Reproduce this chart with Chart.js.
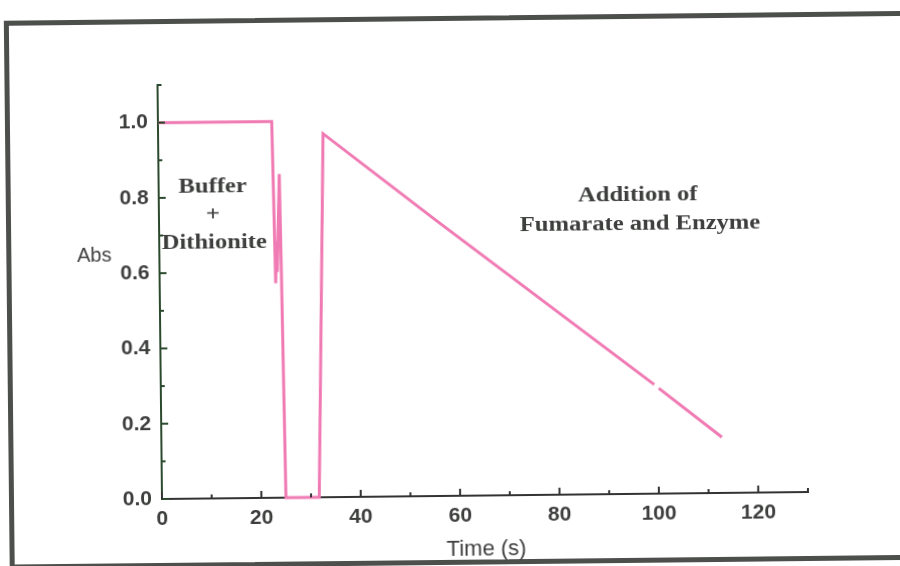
<!DOCTYPE html>
<html>
<head>
<meta charset="utf-8">
<script src="https://cdn.jsdelivr.net/npm/chart.js@4.4.1/dist/chart.umd.min.js"></script>
<style>
  html, body { margin: 0; padding: 0; background: #fff; overflow: hidden; }
  #wrap { position: absolute; left: 0; top: 0; width: 900px; height: 566px;
          transform: rotate(-0.62deg); transform-origin: 162px 499px; }
  #frame { position: absolute; left: 9px; top: 19px; width: 1000px; height: 539px;
           border: 5px solid #4d4f4c; }
  #chart { position: absolute; left: 0; top: 0; }
</style>
</head>
<body>
<div id="wrap">
  <div id="frame"></div>
  <canvas id="chart" width="900" height="566"></canvas>
</div>
<script>
// absorbance trace (time in s)
const timeS = [0, 22.9, 23.35, 23.6, 23.7, 24.3, 24.5, 24.95, 31.65, 33.2, 55.5, 99.3, 99.7, 100.2, 112.8];
const absValues = [1.0, 1.0, 0.57, 0.68, 0.60, 0.86, 0.62, 0.0, 0.0, 0.966, 0.735, 0.29, null, 0.28, 0.148];

const xTicks = [0, 20, 40, 60, 80, 100, 120];
const xMinorTicks = [10, 30, 50, 70, 90, 110, 130];
const yTicks = [0.0, 0.2, 0.4, 0.6, 0.8, 1.0];
const yMinorTicks = [0.1, 0.3, 0.5, 0.7, 0.9, 1.1];

const bufferLabel = ['Buffer', '+', 'Dithionite'];
const additionLabel = ['Addition of', 'Fumarate and Enzyme'];

const points = timeS.map((t, i) => ({ x: t, y: absValues[i] }));

const tickFont = { family: "'Liberation Sans', Arial, sans-serif", size: 21, weight: 'bold' };
const textColor = '#3d3f3d';

// inward tick marks + free text on the plot
const decorations = {
  id: 'decorations',
  afterDraw(chart) {
    const ctx = chart.ctx;
    const xs = chart.scales.x, ys = chart.scales.y;
    const x0 = xs.getPixelForValue(0), y0 = ys.getPixelForValue(0);
    ctx.save();
    ctx.lineWidth = 2;
    ctx.strokeStyle = '#2b4a2d';
    yTicks.concat(yMinorTicks).forEach(v => {
      const len = yTicks.includes(v) ? 7 : 4;
      const py = ys.getPixelForValue(v);
      ctx.beginPath(); ctx.moveTo(x0, py); ctx.lineTo(x0 + len, py); ctx.stroke();
    });
    ctx.strokeStyle = '#333';
    xTicks.concat(xMinorTicks).forEach(v => {
      const len = xTicks.includes(v) ? 7 : 4;
      const px = xs.getPixelForValue(v);
      ctx.beginPath(); ctx.moveTo(px, y0); ctx.lineTo(px, y0 - len); ctx.stroke();
    });

    ctx.fillStyle = textColor;
    ctx.textAlign = 'center';
    ctx.textBaseline = 'middle';
    ctx.font = "20px 'Liberation Sans', Arial, sans-serif";
    ctx.fillText('Abs', 97, 255);
    ctx.font = "22px 'Liberation Sans', Arial, sans-serif";
    ctx.fillText('Time (s)', 486, 553);

    // serif notes look stretched sideways in the scan
    ctx.font = "bold 20.5px 'Liberation Serif', 'Times New Roman', serif";
    const note = (txt, cx, cy) => {
      ctx.save();
      ctx.translate(cx, cy);
      ctx.scale(1.2, 1);
      ctx.fillText(txt, 0, 0);
      ctx.restore();
    };
    note(bufferLabel[0], 216, 188);
    note(bufferLabel[1], 216, 216);
    note(bufferLabel[2], 217, 244);
    note(additionLabel[0], 641, 201);
    note(additionLabel[1], 643, 230);
    ctx.restore();
  }
};

new Chart(document.getElementById('chart'), {
  type: 'line',
  data: {
    datasets: [{
      data: points,
      borderColor: '#f07ab3',
      borderWidth: 3,
      pointRadius: 0,
      tension: 0,
      spanGaps: false,
      clip: 6
    }]
  },
  options: {
    responsive: false,
    animation: false,
    events: [],
    layout: { padding: { top: 85, right: 92, left: 0, bottom: 0 } },
    plugins: { legend: { display: false }, tooltip: { enabled: false } },
    scales: {
      x: {
        type: 'linear',
        min: 0,
        max: 130,
        afterBuildTicks: s => { s.ticks = xTicks.map(v => ({ value: v })); },
        afterFit: s => { s.height = 67; },
        grid: { display: false, drawTicks: false },
        border: { display: true, color: '#333', width: 2 },
        ticks: { font: tickFont, color: textColor, padding: 8, maxRotation: 0, autoSkip: false }
      },
      y: {
        min: 0,
        max: 1.1,
        afterBuildTicks: s => { s.ticks = yTicks.map(v => ({ value: v })); },
        afterFit: s => { s.width = 162; },
        grid: { display: false, drawTicks: false },
        border: { display: true, color: '#2b4a2d', width: 2 },
        ticks: { font: tickFont, color: textColor, padding: 10,
                 callback: v => v.toFixed(1) }
      }
    }
  },
  plugins: [decorations]
});
</script>
</body>
</html>
